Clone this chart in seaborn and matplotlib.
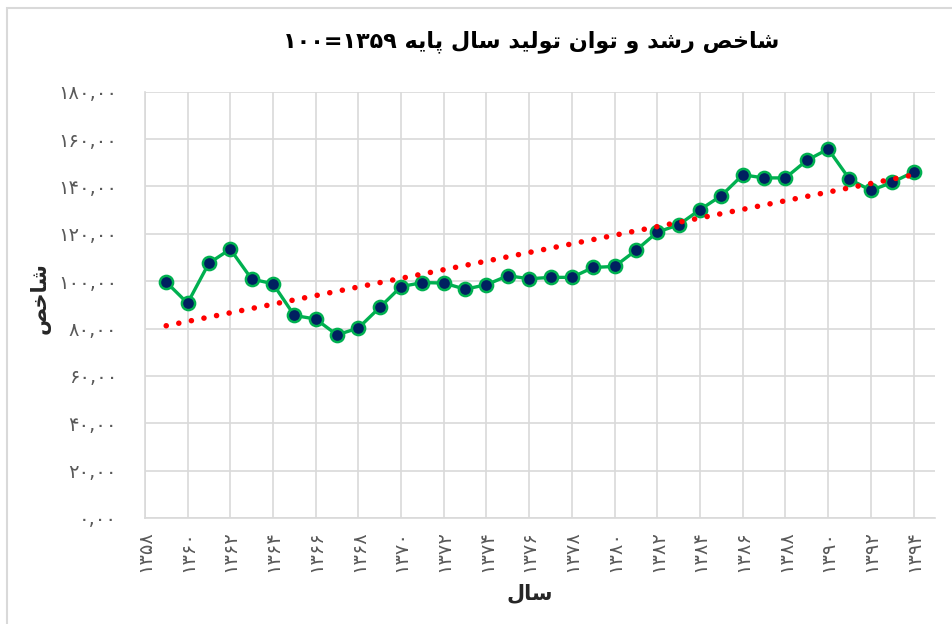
import matplotlib
matplotlib.use("Agg")
import matplotlib.pyplot as plt
import numpy as np
import seaborn as sns
from matplotlib.patches import Rectangle

# Data (index, base year 1359 = 100)
years = list(range(1359, 1395))
index_values = [
    99.6, 90.7, 107.6, 113.5, 100.9, 98.9, 85.5, 84.0, 77.3, 80.2, 88.9, 97.7,
    99.4, 99.2, 96.6, 98.5, 102.3, 101.0, 101.6, 101.6, 105.8, 106.2, 113.0, 120.7,
    123.8, 130.2, 136.1, 144.9, 143.6, 143.6, 151.0, 155.8, 143.1, 138.3, 141.7, 146.1,
]
x_ticks = list(range(1358, 1395, 2))
y_ticks = list(range(0, 181, 20))

title_text = "شاخص رشد و توان تولید سال پایه ۱۳۵۹=۱۰۰"
x_label = "سال"
y_label = "شاخص"

# Minimal Persian shaping (matplotlib has no bidi/shaping)
FORMS = {
    "ا": ("\uFE8D", "\uFE8E", None, None),
    "د": ("\uFEA9", "\uFEAA", None, None),
    "ر": ("\uFEAD", "\uFEAE", None, None),
    "و": ("\uFEED", "\uFEEE", None, None),
    "پ": ("\uFB56", "\uFB57", "\uFB58", "\uFB59"),
    "ت": ("\uFE95", "\uFE96", "\uFE97", "\uFE98"),
    "خ": ("\uFEA5", "\uFEA6", "\uFEA7", "\uFEA8"),
    "س": ("\uFEB1", "\uFEB2", "\uFEB3", "\uFEB4"),
    "ش": ("\uFEB5", "\uFEB6", "\uFEB7", "\uFEB8"),
    "ص": ("\uFEB9", "\uFEBA", "\uFEBB", "\uFEBC"),
    "ل": ("\uFEDD", "\uFEDE", "\uFEDF", "\uFEE0"),
    "ن": ("\uFEE5", "\uFEE6", "\uFEE7", "\uFEE8"),
    "ه": ("\uFEE9", "\uFEEA", "\uFEEB", "\uFEEC"),
    "ی": ("\uFBFC", "\uFBFD", "\uFBFE", "\uFBFF"),
}
FA_DIGITS = str.maketrans("0123456789", "۰۱۲۳۴۵۶۷۸۹")


def shape(text):
    out = []
    for i, ch in enumerate(text):
        if ch not in FORMS:
            out.append(ch)
            continue
        prev = text[i - 1] if i > 0 else ""
        nxt = text[i + 1] if i + 1 < len(text) else ""
        joins_prev = prev in FORMS and FORMS[prev][2] is not None
        joins_next = nxt in FORMS and FORMS[ch][2] is not None
        iso, fin, ini, med = FORMS[ch]
        if joins_prev and joins_next:
            out.append(med)
        elif joins_prev:
            out.append(fin)
        elif joins_next:
            out.append(ini)
        else:
            out.append(iso)
    return "".join(out)


def fa(text):
    s = shape(text)
    tokens, cur, cur_digit = [], "", None
    for ch in s:
        d = ch in "۰۱۲۳۴۵۶۷۸۹0123456789"
        if cur and d != cur_digit:
            tokens.append((cur, cur_digit))
            cur = ""
        cur += ch
        cur_digit = d
    if cur:
        tokens.append((cur, cur_digit))
    return "".join(t if d else t[::-1] for t, d in reversed(tokens))


sns.set_style("white")
plt.rcParams["font.family"] = ["DejaVu Sans"]

fig = plt.figure(figsize=(9.53, 6.24), dpi=100)
ax = fig.add_axes([0.152, 0.170, 0.829, 0.683])

sns.lineplot(
    x=years, y=index_values, ax=ax, color="#00B050", linewidth=2.4,
    marker="o", markersize=9.5, markerfacecolor="#002060",
    markeredgecolor="#00B050", markeredgewidth=1.8, zorder=3,
)
sns.regplot(
    x=np.array(years), y=np.array(index_values), ax=ax, scatter=False, ci=None,
    line_kws=dict(color="#FF0000", linewidth=4.0, linestyle=(0, (0.01, 2.3)),
                  dash_capstyle="round", zorder=4),
)

ax.set_xlim(1358, 1395)
ax.set_ylim(0, 180)
ax.set_xticks(x_ticks)
ax.set_xticklabels([str(y).translate(FA_DIGITS) for y in x_ticks], rotation=90)
ax.set_yticks(y_ticks)
ax.set_yticklabels([f"{v:.2f}".replace(".", ",").translate(FA_DIGITS) for v in y_ticks])
ax.tick_params(axis="both", length=0, labelsize=14, labelcolor="#595959")
ax.tick_params(axis="y", pad=20)
ax.tick_params(axis="x", pad=9)
ax.grid(True, color="#D9D9D9", linewidth=1.2)
ax.set_axisbelow(True)
for side in ["top", "right"]:
    ax.spines[side].set_visible(False)
for side in ["left", "bottom"]:
    ax.spines[side].set_color("#D9D9D9")
    ax.spines[side].set_linewidth(1.2)

ax.set_xlabel("")
ax.set_ylabel("")
fig.text(0.557, 0.934, fa(title_text), ha="center", va="center",
         fontsize=16, fontweight="bold", color="black")
fig.text(0.556, 0.050, fa(x_label), ha="center", va="center",
         fontsize=15, fontweight="bold", color="#262626")
fig.text(0.042, 0.522, fa(y_label), ha="center", va="center", rotation=90,
         fontsize=15, fontweight="bold", color="#262626")

fig.patches.append(Rectangle((7 / 953, -0.1), 1.2, 1 - 8 / 624 + 0.1,
                             transform=fig.transFigure, fill=False,
                             edgecolor="#D9D9D9", linewidth=1.5))

fig.savefig("out.png", dpi=100)
